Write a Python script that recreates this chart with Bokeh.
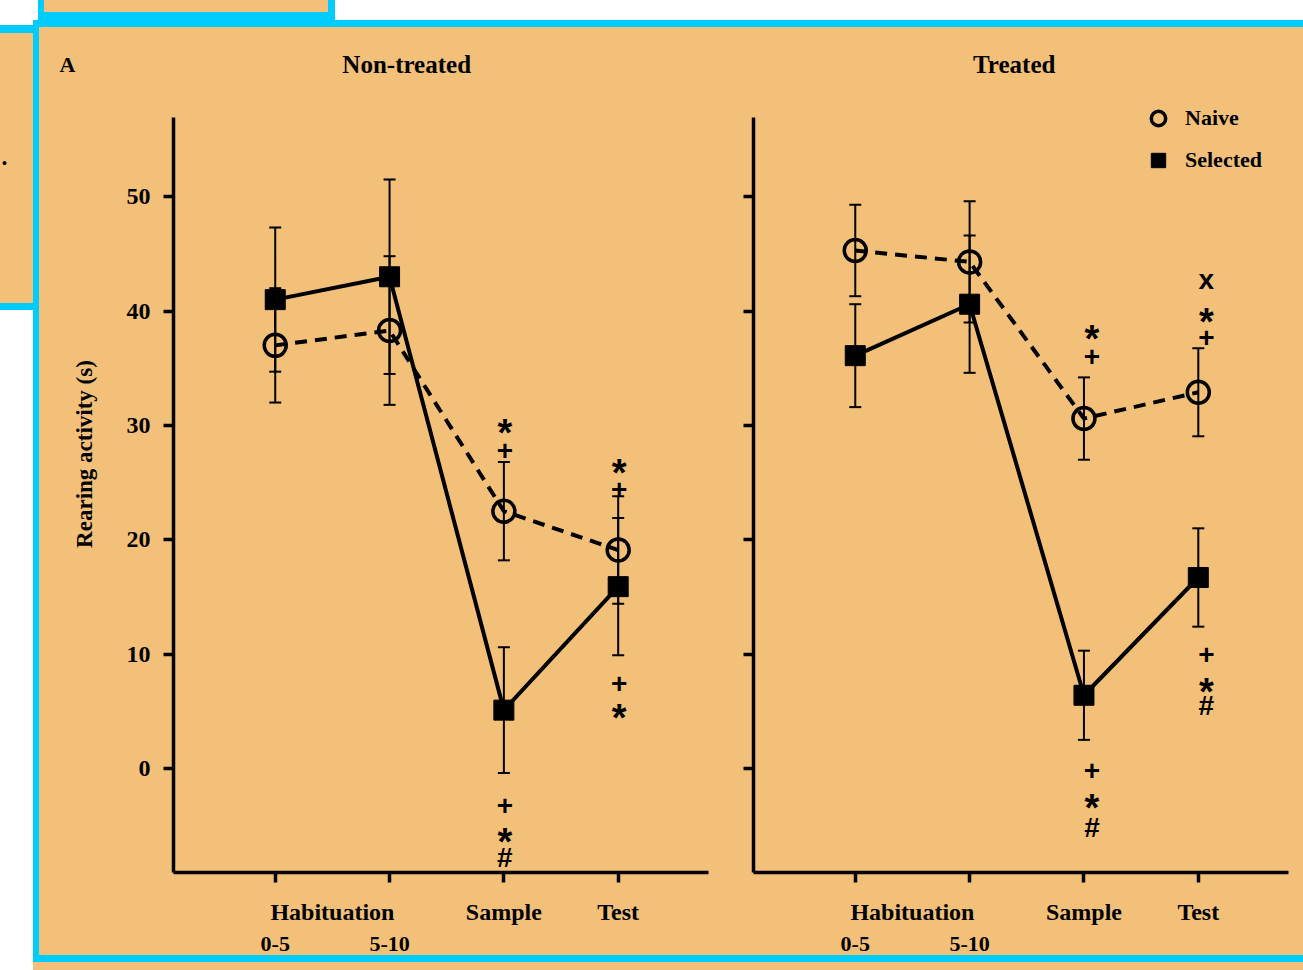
from bokeh.plotting import figure
from bokeh.models import (Range1d, FixedTicker, LinearAxis, ColumnDataSource, Whisker,
                          TeeHead, Legend, LegendItem, Label, Div)
from bokeh.layouts import row, column
from bokeh.core.properties import value
from bokeh.embed import file_html
from bokeh.resources import INLINE

ORANGE = "#F3C079"
CYAN = "#00CCFF"
INK = "black"
SERIF = "Liberation Serif"
SANS = "Liberation Sans"

# ---------------- data ----------------
categories = ["Habituation 0-5", "Habituation 5-10", "Sample", "Test"]
phase_labels = ["Habituation", "Sample", "Test"]
interval_labels = ["0-5", "5-10"]
y_ticks = [0, 10, 20, 30, 40, 50]

panel_titles = ["Non-treated", "Treated"]
panel_letter = "A"
series_names = ["Naive", "Selected"]

nontreated_naive = [37.0, 38.3, 22.5, 19.1]
nontreated_naive_sem = [5.0, 6.5, 4.3, 4.7]
nontreated_selected = [41.0, 43.0, 5.1, 15.9]
nontreated_selected_sem = [6.3, 8.5, 5.5, 6.0]

treated_naive = [45.3, 44.3, 30.6, 32.9]
treated_naive_sem = [4.0, 5.3, 3.6, 3.85]
treated_selected = [36.1, 40.6, 6.4, 16.7]
treated_selected_sem = [4.5, 6.0, 3.9, 4.3]

# significance marks: category index, value, symbol
nontreated_sig_pos = [2, 2, 2, 2, 2, 3, 3, 3, 3]
nontreated_sig_val = [30.2, 27.8, -3.2, -5.6, -7.8, 26.7, 24.4, 7.4, 5.3]
nontreated_sig_txt = ["*", "+", "+", "*", "#", "*", "+", "+", "*"]

treated_sig_pos = [2, 2, 2, 2, 2, 3, 3, 3, 3, 3, 3]
treated_sig_val = [38.4, 36.0, -0.2, -2.6, -5.2, 42.7, 39.9, 37.7, 10.0, 7.6, 5.5]
treated_sig_txt = ["*", "+", "+", "*", "#", "x", "*", "+", "+", "*", "#"]

# ---------------- layout constants ----------------
X_START = -0.89          # left edge of x axis
X_AXIS_END = 3.79        # right end of x axis line
Y_MIN, Y_AXIS_TOP = -9.1, 56.9
Y_RANGE_TOP = 64.1       # frame extends above the axis for title / legend
TITLE_POS = [(1.15, 61.6), (1.39, 61.6)]
LETTER_Y = 61.6

SYMBOL_SHIFT = {"*": 10, "+": 0, "#": 0, "x": -1}
SYMBOL_SIZE = {"*": "38px", "+": "28px", "#": "28px", "x": "28px"}


def style_labels(ax, size):
    ax.major_label_text_font = SERIF
    ax.major_label_text_font_style = "bold"
    ax.major_label_text_font_size = size
    ax.major_label_text_color = INK


def make_panel(idx, naive, naive_sem, sel, sel_sem, sig_pos, sig_val, sig_txt,
               width, border_left, border_right, x_end, first, sig_dx):
    xs = list(range(len(categories)))
    p = figure(width=width, height=928,
               x_range=Range1d(X_START, x_end), y_range=Range1d(Y_MIN, Y_RANGE_TOP),
               min_border_left=border_left, min_border_right=border_right,
               min_border_top=8, min_border_bottom=83,
               toolbar_location=None, output_backend="svg")
    p.background_fill_alpha = 0
    p.border_fill_color = ORANGE
    p.outline_line_color = None
    p.xgrid.visible = False
    p.ygrid.visible = False

    # y axis
    ya = p.yaxis[0]
    ya.ticker = FixedTicker(ticks=y_ticks)
    ya.bounds = (Y_MIN, Y_AXIS_TOP)
    ya.axis_line_width = 3.5
    ya.axis_line_color = INK
    ya.major_tick_line_width = 3.5
    ya.major_tick_line_color = INK
    ya.major_tick_out = 10
    ya.major_tick_in = 0
    ya.minor_tick_line_color = None
    if first:
        style_labels(ya, "24px")
        ya.major_label_standoff = 13
        ya.axis_label = "Rearing activity (s)"
        ya.axis_label_text_font = SERIF
        ya.axis_label_text_font_style = "bold"
        ya.axis_label_text_font_size = "23px"
        ya.axis_label_text_color = INK
        ya.axis_label_standoff = 27
    else:
        style_labels(ya, "0px")
        ya.major_label_standoff = 0
        ya.major_label_overrides = {t: "" for t in y_ticks}

    # x axis: phases + tick marks at each measurement
    hab_center = (xs[0] + xs[1]) / 2
    phase_pos = [hab_center, xs[2], xs[3]]
    xa = p.xaxis[0]
    xa.ticker = FixedTicker(ticks=phase_pos, minor_ticks=xs)
    xa.bounds = (X_START, X_AXIS_END)
    xa.major_label_overrides = {pos: lab for pos, lab in zip(phase_pos, phase_labels)}
    xa.axis_line_width = 3.5
    xa.axis_line_color = INK
    xa.major_tick_line_color = None
    xa.major_tick_out = 0
    xa.major_tick_in = 0
    xa.minor_tick_line_width = 3.5
    xa.minor_tick_line_color = INK
    xa.minor_tick_out = 10
    xa.minor_tick_in = 0
    xa.major_label_standoff = 16
    style_labels(xa, "24px")

    xa2 = LinearAxis(ticker=FixedTicker(ticks=xs[:2]),
                     major_label_overrides={pos: lab for pos, lab in zip(xs[:2], interval_labels)})
    xa2.axis_line_color = None
    xa2.major_tick_line_color = None
    xa2.minor_tick_line_color = None
    xa2.major_tick_out = 0
    xa2.major_tick_in = 0
    xa2.minor_tick_out = 0
    xa2.major_label_standoff = 9
    style_labels(xa2, "22px")
    p.add_layout(xa2, "below")

    if first:
        # panel letter as an outer left axis label
        la = LinearAxis(ticker=FixedTicker(ticks=[LETTER_Y]),
                        major_label_overrides={LETTER_Y: panel_letter})
        la.axis_line_color = None
        la.major_tick_line_color = None
        la.minor_tick_line_color = None
        la.major_tick_out = 0
        la.major_tick_in = 0
        la.minor_tick_out = 0
        la.major_label_standoff = -7
        style_labels(la, "22px")
        p.add_layout(la, "left")

    # panel title
    tx, ty = TITLE_POS[idx]
    p.add_layout(Label(x=tx, y=ty, text=panel_titles[idx], text_font=SERIF,
                       text_font_style="bold", text_font_size="25px", text_color=INK,
                       text_align="center", text_baseline="middle"))

    # error bars
    for vals, sems in ((naive, naive_sem), (sel, sel_sem)):
        src = ColumnDataSource(dict(x=xs,
                                    upper=[v + s for v, s in zip(vals, sems)],
                                    lower=[v - s for v, s in zip(vals, sems)]))
        w = Whisker(source=src, base="x", upper="upper", lower="lower",
                    line_width=2, line_color=INK, level="underlay",
                    upper_head=TeeHead(size=12, line_width=2, line_color=INK),
                    lower_head=TeeHead(size=12, line_width=2, line_color=INK))
        p.add_layout(w)

    # lines
    p.line(xs, naive, line_color=INK, line_width=4, line_dash="12 8")
    p.line(xs, sel, line_color=INK, line_width=4)

    r_naive = p.scatter(xs, naive, marker="circle", size=22, fill_color=None,
                        line_color=INK, line_width=3.5)
    r_sel = p.scatter(xs, sel, marker="square", size=20, fill_color=INK,
                      line_color=INK, line_width=1)

    # significance symbols
    sig_src = ColumnDataSource(dict(x=sig_pos, y=sig_val, text=sig_txt,
                                    yoff=[SYMBOL_SHIFT[t] for t in sig_txt],
                                    size=[SYMBOL_SIZE[t] for t in sig_txt]))
    p.text(x="x", y="y", text="text", source=sig_src, text_font=value(SANS),
           text_font_style="bold", text_font_size={"field": "size"}, text_align="center",
           text_baseline="middle", x_offset=sig_dx, y_offset="yoff", text_color=INK)

    if not first:
        lg = Legend(items=[LegendItem(label=series_names[0], renderers=[r_naive]),
                           LegendItem(label=series_names[1], renderers=[r_sel])],
                    location=(387, 694))
        lg.glyph_width = 36
        lg.glyph_height = 36
        lg.spacing = 6
        lg.padding = 0
        lg.margin = 0
        lg.label_standoff = 9
        lg.label_text_font = SERIF
        lg.label_text_font_style = "bold"
        lg.label_text_font_size = "22px"
        lg.label_text_color = INK
        lg.background_fill_alpha = 0
        lg.border_line_alpha = 0
        p.add_layout(lg)
    return p


left = make_panel(0, nontreated_naive, nontreated_naive_sem,
                  nontreated_selected, nontreated_selected_sem,
                  nontreated_sig_pos, nontreated_sig_val, nontreated_sig_txt,
                  width=691, border_left=134, border_right=22, x_end=X_AXIS_END,
                  first=True, sig_dx=1)
right = make_panel(1, treated_naive, treated_naive_sem,
                   treated_selected, treated_selected_sem,
                   treated_sig_pos, treated_sig_val, treated_sig_txt,
                   width=573, border_left=23, border_right=0, x_end=3.92,
                   first=False, sig_dx=8)


def block(w, h, color=None, styles=None, text=""):
    st = {}
    if color:
        st["background-color"] = color
    if styles:
        st.update(styles)
    return Div(text=text, width=w, height=h, margin=0, styles=st)


top_strip = row(
    block(38, 20),
    block(297, 20, ORANGE, {"border-left": f"6px solid {CYAN}",
                            "border-right": f"7px solid {CYAN}",
                            "border-bottom": f"8px solid {CYAN}",
                            "box-sizing": "border-box"}),
    block(968, 20),
    spacing=0)

left_strip = column(
    block(33, 5),
    block(33, 8, CYAN),
    block(33, 270, ORANGE, {"font-size": "14px", "padding-top": "120px",
                            "padding-left": "2px", "box-sizing": "border-box",
                            "overflow": "hidden"}, text="•"),
    block(33, 7, CYAN),
    block(33, 660),
    spacing=0)

plots_row = row(block(6, 928, CYAN), left, right, spacing=0,
                styles={"background-color": ORANGE})

main = column(
    block(1270, 7, CYAN),
    plots_row,
    block(1270, 7, CYAN),
    block(1270, 8, ORANGE),
    spacing=0)

root = column(top_strip, row(left_strip, main, spacing=0), spacing=0)

open("out.html", "w").write(file_html(root, INLINE, title="Rearing activity"))
